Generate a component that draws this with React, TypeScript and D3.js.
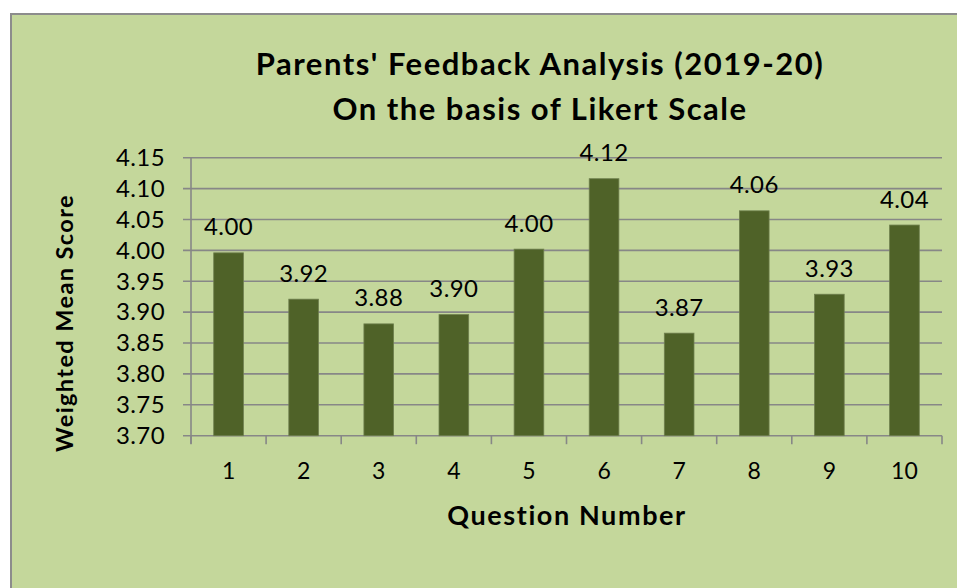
import React from "react";
import * as d3 from "d3";

const questions = ["1", "2", "3", "4", "5", "6", "7", "8", "9", "10"];
const scores = [3.996, 3.921, 3.881, 3.896, 4.002, 4.116, 3.866, 4.064, 3.929, 4.041];
const yTicks = [3.7, 3.75, 3.8, 3.85, 3.9, 3.95, 4.0, 4.05, 4.1, 4.15];
const titleLines = ["Parents' Feedback Analysis (2019-20)", "On the basis of Likert Scale"];
const xTitle = "Question Number";
const yTitle = "Weighted Mean Score";

const W = 957;
const H = 588;
const plot = { left: 191, right: 942, top: 157.7, bottom: 435.7 };
const BG = "#C4D79B";
const BAR = "#4F6228";
const GRID = "#878787";
const FONT = "Lato, 'Open Sans', sans-serif";

export default function App() {
  const x = d3.scaleBand<string>().domain(questions).range([plot.left, plot.right]).paddingInner(0).paddingOuter(0);
  const y = d3.scaleLinear().domain([3.7, 4.15]).range([plot.bottom, plot.top]);
  const barW = x.bandwidth() * 0.395;
  const boundaries = questions.map((q) => x(q) as number).concat([plot.right]);

  return (
    <svg width={W} height={H} style={{ position: "absolute", left: 0, top: 0 }} fontFamily={FONT}>
      <rect x={11} y={14} width={W + 10} height={H + 10} fill={BG} stroke="#8C8C8C" strokeWidth={2} />
      {titleLines.map((t, i) => (
        <text
          key={t}
          x={540}
          y={75 + i * 45}
          textAnchor="middle"
          fontWeight="bold"
          fontSize={31}
          letterSpacing={1.5}
          fill="#000"
        >
          {t}
        </text>
      ))}
      {yTicks.map((t) => (
        <g key={t}>
          <line x1={plot.left - 8} x2={plot.right} y1={y(t)} y2={y(t)} stroke={GRID} strokeWidth={1.6} />
          <text x={165} y={y(t) + 8.3} textAnchor="end" fontSize={24} letterSpacing={0.4} fill="#000">
            {t.toFixed(2)}
          </text>
        </g>
      ))}
      <line x1={plot.left} x2={plot.left} y1={plot.top} y2={plot.bottom + 8} stroke={GRID} strokeWidth={1.6} />
      {boundaries.map((b, i) => (
        <line key={i} x1={b} x2={b} y1={plot.bottom} y2={plot.bottom + 8.5} stroke={GRID} strokeWidth={1.6} />
      ))}
      {questions.map((q, i) => {
        const cx = (x(q) as number) + x.bandwidth() / 2;
        return (
          <g key={q}>
            <rect
              x={cx - barW / 2}
              y={y(scores[i])}
              width={barW}
              height={plot.bottom - y(scores[i])}
              fill={BAR}
              stroke="#6E7F4E"
              strokeWidth={0.8}
            />
            <text x={cx} y={y(scores[i]) - 17.5} textAnchor="middle" fontSize={24} letterSpacing={0.4} fill="#000">
              {scores[i].toFixed(2)}
            </text>
            <text x={cx} y={478.5} textAnchor="middle" fontSize={23} fill="#000">
              {q}
            </text>
          </g>
        );
      })}
      <text
        x={567}
        y={525}
        textAnchor="middle"
        fontWeight="bold"
        fontSize={27}
        letterSpacing={1.6}
        fill="#000"
      >
        {xTitle}
      </text>
      <text
        transform={`translate(73.3, 323) rotate(-90)`}
        textAnchor="middle"
        fontWeight="bold"
        fontSize={23.5}
        letterSpacing={1.4}
        fill="#000"
      >
        {yTitle}
      </text>
    </svg>
  );
}
